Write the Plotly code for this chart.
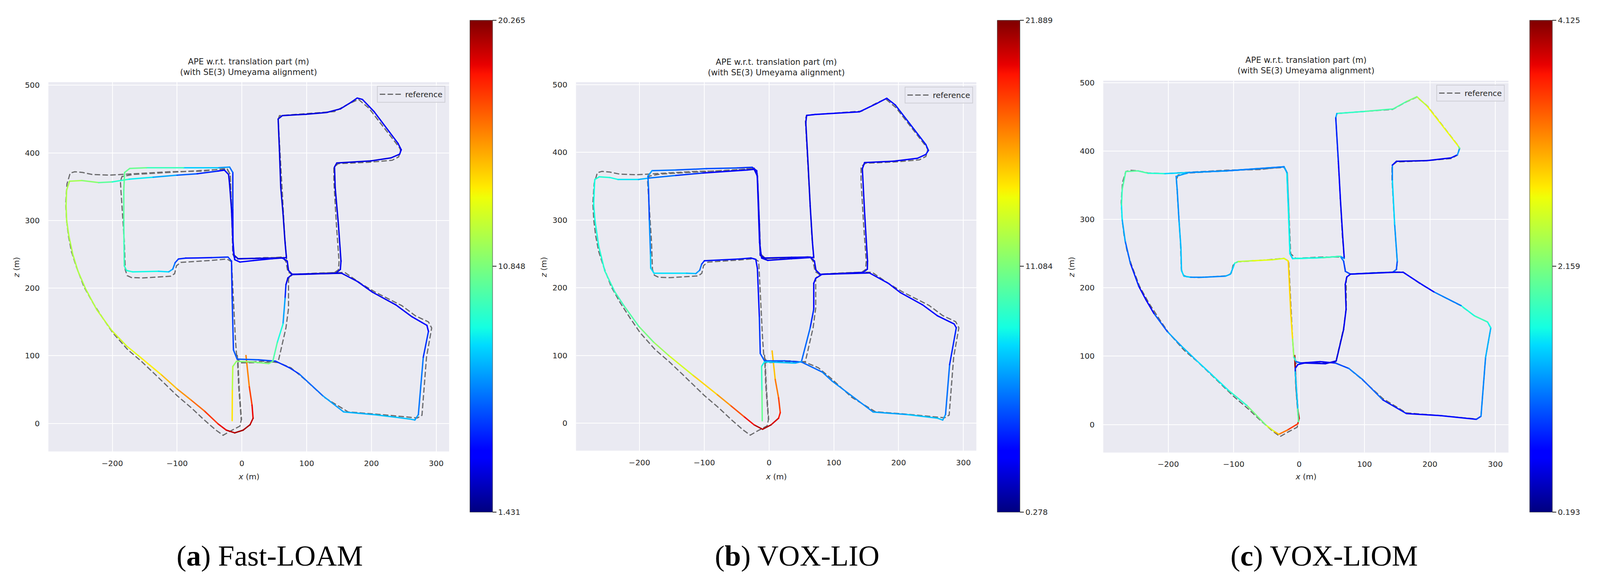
import plotly.graph_objects as go
from plotly.colors import sample_colorscale

W = 4300
H = 1491

# matplotlib jet, plotly's own "Jet" has different stops
JET = [[0, 'rgb(0,0,127)'], [0.11, 'rgb(0,0,255)'], [0.125, 'rgb(0,0,255)'], [0.34, 'rgb(0,219,255)'],
       [0.375, 'rgb(20,255,226)'], [0.64, 'rgb(239,255,8)'], [0.66, 'rgb(255,236,0)'],
       [0.89, 'rgb(255,19,0)'], [0.91, 'rgb(232,0,0)'], [1, 'rgb(127,0,0)']]

x_ref = [-7, -5, -1, -3, -17, -29, -40, -58, -78, -100, -134, -155, -176, -199, -214, -229.5, -243.8, -256, -263, -267.6,
         -270.5, -272, -270, -265, -258, -246, -231, -205, -168, -111, -60, -23, -18, -16, -14, -10, 34, 63, 68, 71,
         78, 112, 143, 149, 150, 146, 142, 142, 149, 195, 232, 242, 245, 243, 196, 180, 164, 143, 100, 58,
         56, 60, 63, 66, 69, 65, 35, -5, -13, -16, -18, -23, -111, -168, -185, -187.5, -186.7, -183.8, -181.5, -180,
         -177, -170.5, -153, -109.5, -103.8, -101, -94.3, -46.7, -23, -16, -12, -10, -8, -4, 3, 32, 56, 76, 96, 128,
         164, 216, 271, 278, 285, 293, 288, 268, 247, 206, 185, 159, 143, 78, 72, 72, 68, 56, 30, -6, -4, -0.5]
y_ref = [101, 55, 5, -4, -11, -17.6, -10, 5, 23, 41, 72.5, 91.6, 108.8, 133.6, 154.6, 177.5, 202, 232.8, 253.8, 276.7,
         299.6, 325, 354, 370, 372, 371, 368, 367, 369, 372, 373, 377, 368, 320, 250, 243, 244, 246, 239, 224,
         220, 222, 223, 227, 239, 293, 358, 379, 384, 386, 389, 394, 404, 408, 466, 479, 472, 461, 458, 455,
         449, 385, 331, 277, 243, 245, 245, 243, 250, 320, 368, 376, 371, 368, 365, 358, 345, 300, 269, 227,
         218.5, 215.6, 215, 217.6, 221.4, 233, 238, 241, 243, 239, 158, 125, 98, 92, 90, 92, 90, 82, 66, 38,
         17, 13, 8, 12, 98, 141, 150, 159, 174, 194, 206, 223, 223, 220, 214, 170, 141, 91, 90, 89.5, 50, 5]

x_a = [6.3, 11.5, 15.7, 17.3, 12.6, 2, -11, -24, -37, -58, -79, -100, -125, -157, -178, -201, -224, -241, -253, -261,
       -267, -270.5, -271.4, -270.5, -266, -247, -221, -200, -174, -137, -100, -69, -37, -27, -20.5, -19, -16, -14, -12, -6,
       26, 62.5, 70, 72, 78, 99, 145, 152, 153, 149, 144, 143, 146.5, 199, 230, 243.5, 246, 241, 204, 186,
       178, 167.5, 152, 130.7, 99, 62.5, 56, 58, 60, 63.5, 66.7, 68.8, 46.7, 17.8, -3, -11, -13.6, -14, -14, -19,
       -37, -90, -147.5, -173, -181, -182.3, -182.3, -182, -181.5, -178, -168.6, -128.6, -113, -106.7, -103, -98, -86.7, -46.7, -21.5, -16,
       -15, -13, -7.3, 25.7, 52, 73, 88.7, 125.5, 157, 204, 259, 267, 272.4, 280, 288, 285.6, 262, 238, 201.6, 178,
       154, 78, 71, 68, 66.7, 63.5, 54.6, 47.8, 41.5, 15, -8.4, -14, -14.7, -15]
y_a = [100.4, 54, 27, 7.6, -2, -10, -14, -10, -0.5, 18.5, 35, 51, 72.5, 98, 114.5, 137.4, 168, 198.5, 225, 250,
       277, 300, 322.5, 345, 358, 359, 356, 357, 361, 364, 367, 369, 373, 374.5, 368, 354, 316, 272, 248, 243.5,
       244, 244.5, 240, 226, 220, 220.5, 222, 227.6, 240, 294, 349, 379, 385, 388, 392.5, 398, 404.5, 414, 461, 479,
       481, 474, 465, 459.6, 457, 455, 450, 403, 349, 310.6, 267, 245, 243.5, 240.7, 238.5, 242, 256, 316, 371, 379,
       378, 378, 378, 377, 371, 345, 300, 269, 233, 226, 224, 224.8, 224, 228, 237.6, 243, 244.3, 245, 246, 240,
       185, 108.6, 95, 94, 92, 82.4, 73, 40.4, 17, 13, 6.5, 5, 13, 97.7, 136, 145, 158, 175, 194, 210,
       222, 220.5, 215, 205, 185, 147, 119.5, 92, 88.4, 91, 91.7, 84, 48.6, 4]
err_a = [15.5, 16.5, 18.2, 18.8, 19.5, 19.7, 19.7, 19, 18, 17, 16, 15.3, 14.2, 13.4, 13, 12.5, 12.2, 12, 12, 12,
         12, 12, 12, 11.9, 12, 11.5, 10.8, 9.5, 8.5, 7.8, 6, 5, 4, 3.5, 3.2, 3, 3, 3, 3, 3,
         3.2, 3.2, 3.3, 3, 3, 3, 3.2, 3.2, 3.2, 3, 3, 3, 3, 3, 3, 3.3, 3.4, 3.3, 3.4, 3.3,
         3.3, 3.2, 3, 3, 3, 3, 3, 2.8, 2.8, 2.8, 2.9, 3, 3.4, 3.6, 3.8, 3.6, 3.8, 4, 5, 6.5,
         6.8, 8.4, 10.3, 10.5, 10.3, 10.3, 9.9, 9.5, 9.3, 9, 8.6, 8.2, 7.6, 6.5, 5.6, 4.6, 4.3, 3.9, 5.2, 4.6,
         4.4, 5.5, 5.4, 5.4, 4.8, 4.6, 5, 6.5, 7, 7.2, 7.5, 7, 6.3, 5.6, 3.8, 3.6, 3.4, 3.3, 3.3, 3.3,
         3.2, 3, 3, 3.3, 5.6, 8, 9.2, 10.5, 10.8, 11, 11.2, 11.4, 13, 15]

x_b = [4.7, 9.5, 14.7, 17.3, 14.7, 3, -10, -23, -39, -60, -81, -117.7, -155.7, -178.5, -201, -224, -238.4, -253.6, -263, -268.8,
       -270.7, -269.8, -269, -262, -246, -233, -201.6, -186, -144, -102, -33.6, -23, -18, -15, -13.6, -7.3, 34.6, 63.5, 70, 72.4,
       79, 108, 145, 151.7, 152, 147.5, 144, 147.5, 192, 229, 242, 246, 242, 195, 181.6, 165, 139.6, 71, 58, 56.7,
       60, 63.5, 67, 69, 34.6, -2, -11.5, -14.7, -18, -19, -26, -49, -96.6, -144, -180.6, -187, -186, -184.8, -183, -182.7,
       -177.6, -127.2, -113, -107, -104, -99.7, -45.4, -28, -20.5, -18, -15, -13.6, -7, 24, 50, 82, 97.6, 160.6, 213, 260,
       268, 272.4, 278.7, 289, 285.6, 260, 236.7, 202.6, 184, 155, 82, 72, 69, 69, 63.5, 50, 40, 3, -7.3, -11.5,
       -11, -10.5]
y_b = [106.8, 64.7, 37.4, 15.6, 7.4, -2.5, -9, -2.5, 10, 26.5, 43, 71, 100.7, 120, 143, 173.5, 194.6, 225, 261.7, 300,
       323, 346, 360, 364, 363, 360, 360, 362, 366, 369.5, 374, 375, 365, 294, 248, 244, 245, 245.5, 239.5, 226,
       220, 221, 222.6, 227.5, 239.5, 310.5, 376, 385, 387, 391.3, 397, 403, 411.6, 470, 480, 471.6, 460, 456, 454.6, 444,
       387, 321, 267, 245, 243, 240.5, 244, 267, 360, 373, 378, 377, 376, 374, 373, 365, 346, 300, 250, 229,
       221.5, 221.5, 221, 226, 235, 240, 242.6, 244, 242, 228.6, 157.6, 103, 92, 92, 90.4, 75.6, 62, 16.6, 12.8, 7.4,
       4.6, 12.8, 86.5, 141, 146.6, 158.6, 175, 193, 206.7, 222, 220, 214, 206.7, 168.5, 141, 91, 88.7, 90.4, 90.4, 84,
       48.3, 3.5]
err_b = [14.5, 16.5, 18, 19.1, 19.7, 20.8, 21.2, 20.4, 19.1, 17.1, 15.8, 14.3, 12.4, 11.5, 10.4, 9.6, 9.4, 8.9, 8.7, 8.5,
         8.5, 8.3, 8.5, 8.9, 8.5, 8.3, 7.4, 6.1, 4.6, 3.5, 2.4, 2.4, 2, 2, 2, 2, 2.4, 2.4, 2.4, 2.4,
         2.4, 2.9, 2.9, 2.4, 2.4, 2.4, 2.4, 2.4, 2.4, 2.9, 3.5, 3.5, 3.5, 3.5, 2.9, 2.9, 2.9, 2.9, 2.4, 2.4,
         2, 2, 2.4, 2.4, 2.4, 2.4, 2.4, 2.4, 2.4, 2.6, 3.5, 4.6, 4.6, 5, 5.7, 6.8, 4, 5, 6.8, 7.4,
         8, 7.4, 6.8, 5.7, 4.6, 3.5, 3.1, 3.5, 3.1, 3.1, 3.5, 4.6, 5, 4.6, 4.6, 5.7, 5.7, 6.1, 6.8, 7.4,
         6.8, 6.1, 4.6, 2.9, 3.5, 2.9, 2.9, 2.9, 2.9, 2.4, 2.4, 2.4, 2.9, 3.1, 4.6, 5.7, 6.8, 7.4, 7.8, 8.5,
         10, 11.1]

x_c = [-6.8, -4.7, -2, 0, -2, -17.7, -31, -38.5, -51, -80, -109, -133.5, -158, -180.7, -201.5, -222, -233.6, -245, -258, -265.8,
       -270.5, -271.5, -270.5, -265, -246.5, -231, -205, -168.5, -111, -23, -18.7, -16.6, -14, -10, 34, 63, 68, 70.7, 78.5, 112,
       143.5, 148.7, 150, 146, 142.5, 142.5, 148.7, 195.5, 232, 242, 245.5, 243, 195.5, 180, 164, 143.5, 100, 57.7, 56, 60,
       63, 66.5, 69, 63, 34, -10, -14, -16.6, -18.7, -23, -111, -168.5, -188, -186.4, -183.5, -180.7, -179.8, -176, -165.6, -146.7,
       -112.7, -105, -101.3, -98.5, -92.8, -71, -41, -23, -16.6, -12.5, -10, -8, -4.7, 3, 32, 55, 76, 96.7, 128, 164,
       216, 271, 278, 285, 293, 288, 268, 247.5, 206, 185, 159, 143.5, 78.5, 73, 70.5, 71.8, 68, 56.7, 40, 8,
       -2, -6, -6, -2, -1]
y_c = [101, 55, 22.7, 9, 1, -8, -14.3, -9.7, -0.6, 28, 50.8, 73, 94.7, 115.5, 136, 162.6, 181.5, 202, 236, 268,
       300, 321, 343.8, 370, 371, 367.6, 367, 368.6, 371, 377, 368.6, 320, 250, 242.7, 244, 246, 239, 224, 220, 221.6,
       222.7, 227, 239, 293, 358, 379.5, 385, 386, 390, 394.6, 404, 407.6, 466, 479.5, 472.4, 461.6, 458, 455, 448.6, 385,
       331, 277, 243, 246, 244, 242.7, 250, 320, 368.6, 377, 371, 368.6, 363, 343.8, 296.6, 258.9, 225, 217, 215.5, 215.5,
       217, 220, 228.7, 236, 238.5, 239.6, 241, 243, 239, 158, 125, 98.4, 92, 90, 92, 90, 82, 66, 36, 16,
       13, 7.6, 12, 98, 141.6, 150, 159, 174, 194, 206.5, 222.7, 222.7, 220, 216, 205, 168.6, 139, 93, 89, 90,
       87.6, 82, 77, 22.7, 4]
err_c = [4, 4, 4, 3.9, 3.65, 3.42, 3.14, 2.75, 2.36, 1.9, 1.65, 1.57, 1.49, 1.37, 1.25, 0.78, 0.59, 0.66, 0.98, 1.18,
         1.49, 1.69, 1.96, 1.96, 2.04, 1.84, 1.65, 1.37, 1.06, 0.98, 1.37, 1.65, 1.57, 1.37, 1.45, 1.37, 0.98, 0.86, 1.06, 1.37,
         1.18, 0.98, 0.98, 1.57, 1.45, 0.98, 0.5, 0.59, 0.59, 0.98, 1.57, 2.75, 2.63, 2.36, 2.0, 1.95, 1.9, 1.7, 0.98, 0.66,
         0.59, 0.59, 0.59, 1.84, 1.9, 1.5, 1.6, 1.65, 1.5, 1.2, 1.2, 1.3, 1.3, 1.2, 1.3, 1.49, 1.37, 1.65, 1.25, 1.18,
         1.25, 1.45, 1.37, 1.69, 2.16, 2.75, 2.55, 2.6, 2.75, 3.02, 2.63, 1.96, 1.5, 0.59, 0.6, 0.78, 1.18, 1.18, 0.98, 0.59,
         0.66, 0.78, 1.1, 1.3, 1.45, 1.84, 1.84, 1.57, 0.78, 0.66, 0.59, 0.6, 0.6, 0.6, 0.55, 0.59, 0.55, 0.5, 0.55, 0.59,
         0.59, 0.7, 1.1, 1.84, 2.16]

# pixel boxes measured on the reference: plot left/right/top/bottom, colorbar left, legend right/top, caption centre
panels = [
    dict(x=x_a, y=y_a, err=err_a, lo=1.431, hi=20.265, ticks=['1.431', '10.848', '20.265'],
         box=(130, 1207, 204.4, 1155), xr=(-298.7, 319.9), yr=(-41.5, 504.5), cb=1263, leg=(1197, 214),
         cap=725, label='<b>a</b>', name='Fast-LOAM', ytitle=44, title_y=193),
    dict(x=x_b, y=y_b, err=err_b, lo=0.278, hi=21.889, ticks=['0.278', '11.084', '21.889'],
         box=(1548, 2624, 204.4, 1153), xr=(-298, 320), yr=(-40.6, 503.8), cb=2680, leg=(2615, 216),
         cap=2143, label='<b>b</b>', name='VOX-LIO', ytitle=1462, title_y=194),
    dict(x=x_c, y=y_c, err=err_c, lo=0.193, hi=4.125, ticks=['0.193', '2.159', '4.125'],
         box=(2965, 4054, 200.6, 1157.8), xr=(-299.4, 320), yr=(-41, 503), cb=4111, leg=(4044, 211),
         cap=3559, label='<b>c</b>', name='VOX-LIOM', ytitle=2880, title_y=189),
]

text_col = '#262626'
fig = go.Figure()
annotations = []
layout_axes = {}

assert len(x_ref) == len(y_ref), (len(x_ref), len(y_ref))

for i, p in enumerate(panels):
    assert len(p['x']) == len(p['y']) == len(p['err']), (i, len(p['x']), len(p['y']), len(p['err']))
    n = '' if i == 0 else str(i + 1)
    xa = 'x' + n
    ya = 'y' + n
    left, right, top, bottom = p['box']

    layout_axes['xaxis' + n] = dict(domain=[left / W, right / W], range=list(p['xr']), anchor=ya,
                                    tickvals=[-200, -100, 0, 100, 200, 300], showgrid=True, gridcolor='white',
                                    gridwidth=2, zeroline=False, ticks='outside', ticklen=12,
                                    tickcolor='rgba(0,0,0,0)', showline=False,
                                    tickfont=dict(size=20, color=text_col))
    layout_axes['yaxis' + n] = dict(domain=[1 - bottom / H, 1 - top / H], range=list(p['yr']), anchor=xa,
                                    tickvals=[0, 100, 200, 300, 400, 500], showgrid=True, gridcolor='white',
                                    gridwidth=2, zeroline=False, ticks='outside', ticklen=17,
                                    tickcolor='rgba(0,0,0,0)', showline=False,
                                    tickfont=dict(size=20, color=text_col))

    legend_name = 'legend' + n
    fig.add_trace(go.Scatter(x=x_ref, y=y_ref, mode='lines', name='reference', xaxis=xa, yaxis=ya,
                             line=dict(color='#69696b', width=3, dash='14px,6px'),
                             legend=legend_name, hoverinfo='skip'))

    # one short trace per step so each one gets its own colour
    span = p['hi'] - p['lo']
    for k in range(len(p['x']) - 1):
        val = (p['err'][k] + p['err'][k + 1]) / 2
        col = sample_colorscale(JET, (val - p['lo']) / span)[0]
        fig.add_trace(go.Scatter(x=p['x'][k:k + 2], y=p['y'][k:k + 2], mode='lines+markers', xaxis=xa, yaxis=ya,
                                 line=dict(color=col, width=3.5), marker=dict(color=col, size=3.5),
                                 showlegend=False, hoverinfo='skip'))

    # colorbar only
    fig.add_trace(go.Scatter(x=[None], y=[None], mode='markers', xaxis=xa, yaxis=ya, showlegend=False,
                             marker=dict(color=[p['lo']], cmin=p['lo'], cmax=p['hi'], colorscale=JET, showscale=True,
                                         colorbar=dict(x=p['cb'] / W, xanchor='left', xpad=0, ypad=0,
                                                       y=1 - 45.6 / H, yanchor='top', len=1266 / H, lenmode='fraction',
                                                       thickness=58, thicknessmode='pixels',
                                                       tickvals=[p['lo'], (p['lo'] + p['hi']) / 2, p['hi']],
                                                       ticktext=p['ticks'], ticks='outside', ticklen=10, tickwidth=2,
                                                       tickcolor=text_col, outlinewidth=1, outlinecolor='#333333',
                                                       tickfont=dict(size=20, color=text_col)))))

    layout_axes[legend_name] = dict(x=p['leg'][0] / W, y=1 - p['leg'][1] / H, xanchor='right', yanchor='top',
                                    bgcolor='rgba(234,234,242,0.8)', bordercolor='#cfcfd6', borderwidth=2,
                                    itemwidth=60, font=dict(size=20, color=text_col))

    centre = (left + right) / 2
    annotations.append(dict(x=centre / W, y=1 - p['title_y'] / H, xref='paper', yref='paper', showarrow=False,
                            text='APE w.r.t. translation part (m)<br>(with SE(3) Umeyama alignment)',
                            xanchor='center', yanchor='bottom', align='center',
                            font=dict(size=21, color=text_col, family='DejaVu Sans')))
    annotations.append(dict(x=centre / W, y=1 - 1219.6 / H, xref='paper', yref='paper', showarrow=False,
                            text='<i>x</i> (m)', xanchor='center', yanchor='middle',
                            font=dict(size=20, color=text_col)))
    annotations.append(dict(x=p['ytitle'] / W, y=1 - 680.6 / H, xref='paper', yref='paper', showarrow=False,
                            text='<i>z</i> (m)', textangle=-90, xanchor='center', yanchor='middle',
                            font=dict(size=20, color=text_col)))
    annotations.append(dict(x=p['cap'] / W, y=1 - 1423 / H, xref='paper', yref='paper', showarrow=False,
                            text='(' + p['label'] + ') ' + p['name'], xanchor='center', yanchor='middle',
                            font=dict(size=75, color='#000000', family='Liberation Serif')))

fig.update_layout(autosize=True, margin=dict(l=0, r=0, t=0, b=0), paper_bgcolor='white',
                  plot_bgcolor='#EAEAF2', font=dict(family='DejaVu Sans', color=text_col), annotations=annotations,
                  **layout_axes)

fig.write_html("out.html", config=dict(displayModeBar=False, responsive=True),
               post_script="document.body.style.margin='0';document.documentElement.style.overflow='hidden';"
                           "Plotly.Plots.resize(document.getElementById('{plot_id}'));")
